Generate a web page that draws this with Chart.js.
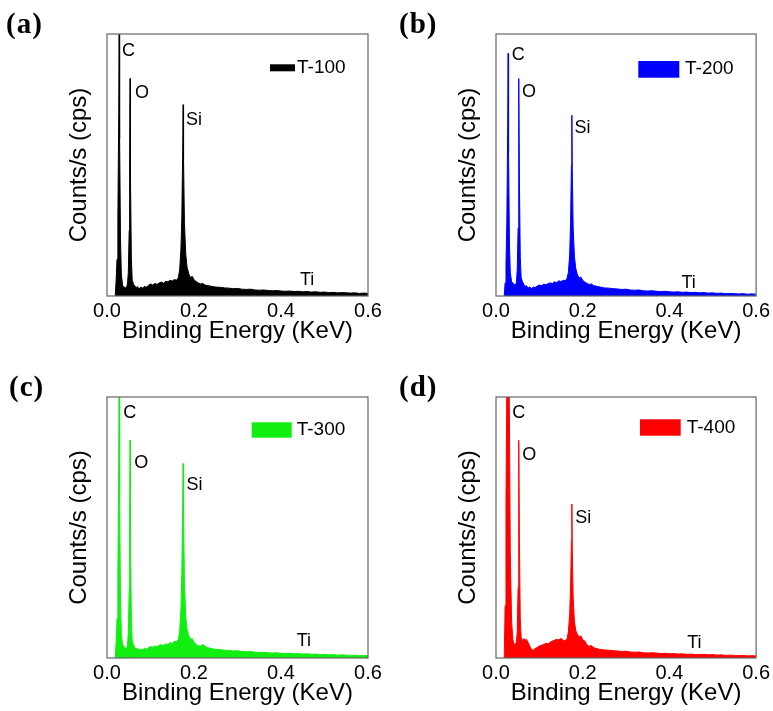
<!DOCTYPE html>
<html>
<head>
<meta charset="utf-8">
<title>EDS spectra T-100 to T-400</title>
<script src="https://cdn.jsdelivr.net/npm/chart.js@4.4.1/dist/chart.umd.min.js"></script>
<style>
  html, body { margin: 0; padding: 0; background: #fff; }
  body { width: 773px; height: 711px; position: relative; overflow: hidden; }
  .panel { position: absolute; }
</style>
</head>
<body>
<div class="panel" style="left:0px;top:0px;width:386px;height:355px"><canvas id="ca"></canvas></div>
<div class="panel" style="left:389px;top:0px;width:384px;height:355px"><canvas id="cb"></canvas></div>
<div class="panel" style="left:0px;top:355px;width:386px;height:356px"><canvas id="cc"></canvas></div>
<div class="panel" style="left:389px;top:355px;width:384px;height:356px"><canvas id="cd"></canvas></div>
<script>
// binding energy (KeV), shared by all four spectra
const energy = [
  0.019, 0.021, 0.023, 0.025, 0.027, 0.028, 0.029, 0.031, 0.033, 0.036,
  0.039, 0.042, 0.045, 0.047, 0.049, 0.051, 0.052, 0.053, 0.054, 0.056, 0.058,
  0.061, 0.064, 0.067, 0.070, 0.074, 0.078, 0.082, 0.086, 0.090, 0.095, 0.100, 0.105,
  0.110, 0.115, 0.120, 0.125, 0.130, 0.135, 0.140, 0.145, 0.150, 0.155,
  0.160, 0.164, 0.167, 0.170, 0.172, 0.174, 0.175, 0.176, 0.178, 0.181, 0.184, 0.188, 0.192, 0.196,
  0.200, 0.205, 0.210, 0.215, 0.220, 0.225, 0.230, 0.240, 0.250, 0.260,
  0.270, 0.280, 0.290, 0.300, 0.310, 0.320, 0.330, 0.340, 0.350, 0.360,
  0.370, 0.380, 0.390, 0.400, 0.410, 0.420, 0.430, 0.440, 0.450, 0.460,
  0.470, 0.480, 0.490, 0.500, 0.510, 0.520, 0.530, 0.540, 0.550, 0.560, 0.570, 0.580, 0.590, 0.600
];

// counts, in % of the plotted full scale
const countsT100 = [
  0, 6, 14, 30, 70, 105, 60, 22, 8, 4,
  3.5, 3, 3.5, 4.5, 9, 25, 50, 83, 45, 14, 6,
  4.5, 3.8, 3.2, 3.6, 2.8, 3.4, 3.0, 3.7, 3.3, 4.0, 4.6, 4.2,
  4.8, 4.4, 5.0, 5.3, 4.9, 5.6, 5.4, 6.0, 5.7, 6.3,
  6.0, 7, 10, 18, 30, 55, 73, 52, 28, 16, 11, 8.5, 7.0, 7.5,
  6.2, 5.5, 5.0, 4.6, 4.8, 4.2, 4.0, 3.7, 3.4, 3.3,
  3.1, 3.0, 2.8, 2.9, 2.6, 2.5, 2.6, 2.3, 2.2, 2.3,
  2.1, 2.0, 2.1, 1.9, 1.8, 1.9, 1.7, 1.8, 1.6, 1.7,
  1.5, 1.6, 1.4, 1.5, 1.3, 1.4, 1.2, 1.3, 1.2, 1.1, 1.2, 1.0, 1.1, 1.0
];
const countsT200 = [
  0, 5, 12, 28, 65, 92.6, 55, 20, 9, 5.5,
  5, 4.2, 4.5, 5, 10, 26, 52, 83, 44, 15, 7,
  5.5, 4.5, 3.6, 4.0, 3.0, 3.5, 2.8, 3.4, 3.2, 3.8, 4.2, 4.0,
  4.5, 4.3, 4.7, 5.0, 4.8, 5.4, 5.1, 5.8, 5.5, 6.0,
  5.8, 6.8, 9, 16, 28, 50, 69, 48, 26, 15, 10.5, 8, 7, 7.2,
  6.0, 5.3, 4.8, 4.4, 4.6, 4.0, 3.8, 3.4, 3.1, 3.0,
  2.8, 2.7, 2.5, 2.6, 2.3, 2.2, 2.3, 2.0, 1.9, 2.0,
  1.8, 1.7, 1.8, 1.6, 1.5, 1.6, 1.4, 1.5, 1.3, 1.4,
  1.2, 1.3, 1.1, 1.2, 1.0, 1.1, 0.9, 1.0, 0.9, 0.8, 0.9, 0.7, 0.8, 0.7
];
const countsT300 = [
  0, 6, 15, 32, 75, 112, 62, 22, 9, 5,
  4.5, 3.6, 3.8, 4.6, 9.5, 26, 52, 83.4, 46, 14, 6.5,
  5.0, 4.0, 3.4, 3.8, 3.0, 3.5, 3.1, 3.8, 3.4, 3.9, 4.4, 4.1,
  4.6, 4.3, 4.9, 5.1, 4.8, 5.4, 5.2, 5.9, 5.6, 6.4,
  6.2, 7.2, 10, 19, 32, 58, 74.5, 54, 29, 16, 11, 8.5, 7.2, 7.4,
  6.0, 5.2, 4.7, 4.6, 5.2, 4.6, 4.0, 3.6, 3.3, 3.2,
  3.0, 2.9, 2.7, 2.8, 2.5, 2.4, 2.5, 2.2, 2.1, 2.2,
  2.0, 1.9, 2.0, 1.8, 1.7, 1.8, 1.6, 1.7, 1.5, 1.6,
  1.4, 1.5, 1.3, 1.4, 1.2, 1.3, 1.1, 1.2, 1.1, 1.0, 1.1, 0.9, 1.0, 0.9
];
const countsT400 = [
  0, 20, 60, 105, 135, 140, 130, 90, 40, 14,
  7, 5, 5.5, 6, 10, 27, 52, 83.4, 45, 15, 8,
  6.5, 7.5, 6.8, 7.2, 6.0, 4.5, 3.3, 3.0, 3.6, 4.0, 4.6, 4.9,
  5.2, 5.6, 5.4, 6.0, 6.5, 6.8, 7.2, 6.9, 7.5, 6.8,
  6.5, 7.5, 10, 17, 27, 45, 59, 42, 23, 14, 10.5, 9, 8, 8.5,
  7.0, 6.5, 5.0, 4.5, 4.8, 4.0, 3.7, 3.3, 3.1, 3.0,
  2.8, 2.7, 2.5, 2.6, 2.3, 2.2, 2.3, 2.0, 1.9, 2.0,
  1.9, 1.7, 1.8, 1.6, 1.7, 1.5, 1.6, 1.4, 1.5, 1.3,
  1.3, 1.4, 1.2, 1.3, 1.1, 1.2, 1.0, 1.1, 1.0, 0.9, 1.0, 0.8, 0.9, 0.8
];

const sampleNames = ['T-100', 'T-200', 'T-300', 'T-400'];
const panelTags = ['(a)', '(b)', '(c)', '(d)'];
const xTicks = [0.0, 0.2, 0.4, 0.6];
const peakNames = ['C', 'O', 'Si', 'Ti'];
// where each element name sits (KeV, % full scale), one row per panel
const peakLabelX = [
  [0.0345, 0.0644, 0.1816, 0.4437],
  [0.0366, 0.0602, 0.181, 0.428],
  [0.0375, 0.0628, 0.183, 0.436],
  [0.0375, 0.0605, 0.183, 0.441]
];
const peakLabelY = [
  [91.6, 75.5, 65.3, 4.2],
  [90.1, 76.1, 62.2, 3.1],
  [92.0, 72.8, 64.5, 4.6],
  [92.0, 76.0, 51.7, 3.8]
];

const FONT = '"Liberation Sans", Arial, sans-serif';

// layout / style per panel
const panels = [
  { canvas: 'ca', counts: countsT100, color: '#000000', padTop: 34, padRight: 18, xHeight: 59, tag: [6, 33], legend: [163, 30.3, 25, 7, 190, 33.7] },
  { canvas: 'cb', counts: countsT200, color: '#0000ff', padTop: 34, padRight: 15, xHeight: 59, tag: [10, 33], legend: [142.3, 27, 41, 16.7, 189, 35] },
  { canvas: 'cc', counts: countsT300, color: '#11ee11', padTop: 42, padRight: 18, xHeight: 53, tag: [9, 41], legend: [144.7, 25.3, 40, 15.4, 189.7, 33] },
  { canvas: 'cd', counts: countsT400, color: '#ff0000', padTop: 42, padRight: 16, xHeight: 53, tag: [10, 41], legend: [144, 22.3, 40.7, 16.4, 190.7, 30.5] }
];

function makeDecor(p, idx) {
  return {
    id: 'decor' + idx,
    afterDatasetsDraw(chart) {
      const { ctx, chartArea: a, scales: { x, y } } = chart;
      ctx.save();
      ctx.strokeStyle = '#666';
      ctx.lineWidth = 1.2;
      ctx.strokeRect(a.left, a.top, a.right - a.left, a.bottom - a.top);

      ctx.fillStyle = '#000';
      ctx.font = '18px ' + FONT;
      ctx.textBaseline = 'alphabetic';
      peakNames.forEach((n, i) => {
        ctx.fillText(n, x.getPixelForValue(peakLabelX[idx][i]), y.getPixelForValue(peakLabelY[idx][i]));
      });

      const [bx, by, bw, bh, tx, ty] = p.legend;
      ctx.fillStyle = p.color;
      ctx.fillRect(a.left + bx, a.top + by, bw, bh);
      ctx.fillStyle = '#000';
      ctx.font = '19px ' + FONT;
      ctx.textBaseline = 'middle';
      ctx.fillText(sampleNames[idx], a.left + tx, a.top + ty);

      ctx.font = 'bold 29px "Liberation Serif", "Times New Roman", serif';
      ctx.letterSpacing = '1px';
      ctx.textBaseline = 'alphabetic';
      ctx.fillText(panelTags[idx], p.tag[0], p.tag[1]);
      ctx.restore();
    }
  };
}

panels.forEach((p, idx) => {
  new Chart(document.getElementById(p.canvas), {
    type: 'line',
    data: {
      datasets: [{
        label: sampleNames[idx],
        data: energy.map((e, i) => ({ x: e, y: p.counts[i] })),
        borderColor: p.color,
        backgroundColor: p.color,
        borderWidth: 1,
        pointRadius: 0,
        fill: 'origin',
        tension: 0
      }]
    },
    options: {
      responsive: true,
      maintainAspectRatio: false,
      animation: false,
      devicePixelRatio: 1,
      layout: { padding: { top: p.padTop, right: p.padRight, left: 0, bottom: 0 } },
      plugins: { legend: { display: false }, tooltip: { enabled: false } },
      scales: {
        x: {
          type: 'linear',
          min: 0,
          max: 0.6,
          grid: { display: false, drawTicks: false },
          border: { display: false },
          afterBuildTicks: (s) => { s.ticks = xTicks.map(v => ({ value: v })); },
          afterFit: (s) => { s.height = p.xHeight; },
          ticks: {
            padding: 3,
            color: '#000',
            font: { family: FONT, size: 20 },
            maxRotation: 0,
            callback: (v) => Number(v).toFixed(1)
          },
          title: {
            display: true,
            text: 'Binding Energy (KeV)',
            color: '#000',
            font: { family: FONT, size: 24 },
            padding: { top: 0, bottom: p.xHeight - 37 - 14.4 + 2 }
          }
        },
        y: {
          min: 0,
          max: 100,
          grid: { display: false, drawTicks: false },
          border: { display: false },
          ticks: { display: false },
          afterFit: (s) => { s.width = 107; },
          title: {
            display: true,
            text: 'Counts/s (cps)',
            color: '#000',
            font: { family: FONT, size: 24 },
            padding: { top: 64.5, bottom: 0 }
          }
        }
      }
    },
    plugins: [makeDecor(p, idx)]
  });
});
</script>
</body>
</html>
